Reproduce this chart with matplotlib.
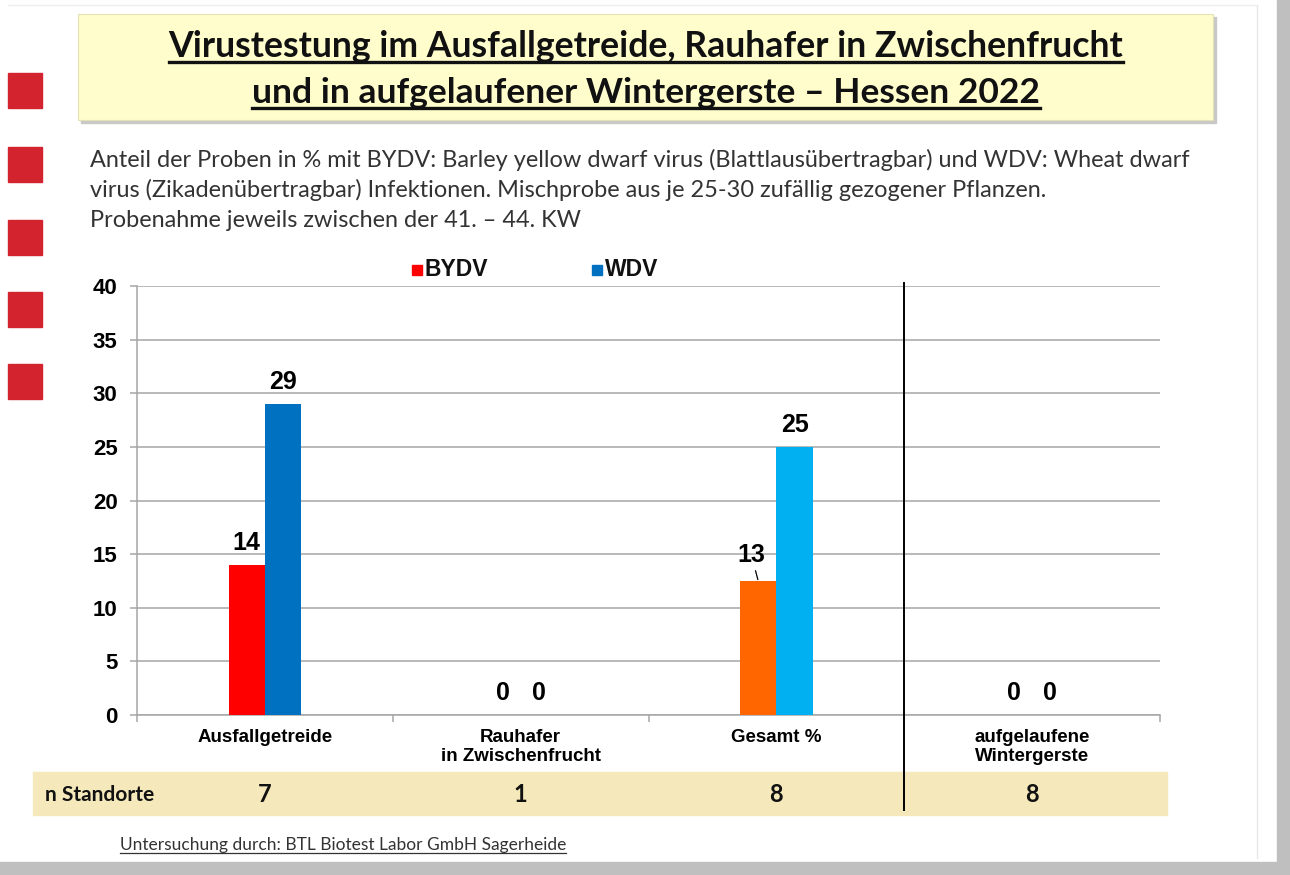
import matplotlib
matplotlib.use("Agg")
import matplotlib.pyplot as plt
from matplotlib.patches import Rectangle
from matplotlib.lines import Line2D
import matplotlib.transforms as mtrans

# ---------------- data ----------------
categories = ["Ausfallgetreide", "Rauhafer\nin Zwischenfrucht", "Gesamt %", "aufgelaufene\nWintergerste"]
bydv = [14, 0, 12.5, 0]
wdv = [29, 0, 25, 0]
n_standorte = [7, 1, 8, 8]
yticks = [0, 5, 10, 15, 20, 25, 30, 35, 40]
series_names = ["BYDV", "WDV"]
bydv_colors = ["#FF0000", "#FF0000", "#FF6600", "#FF0000"]
wdv_colors = ["#0070C0", "#0070C0", "#00B0F0", "#0070C0"]

title_lines = ["Virustestung im Ausfallgetreide, Rauhafer in Zwischenfrucht",
               "und in aufgelaufener Wintergerste \u2013 Hessen 2022"]
subtitle_lines = ["Anteil der Proben in % mit BYDV: Barley yellow dwarf virus (Blattlaus\u00fcbertragbar) und WDV: Wheat dwarf",
                  "virus (Zikaden\u00fcbertragbar) Infektionen. Mischprobe aus je 25-30 zuf\u00e4llig gezogener Pflanzen.",
                  "Probenahme jeweils zwischen der 41. \u2013 44. KW"]
footer = "Untersuchung durch: BTL Biotest Labor GmbH Sagerheide"
table_label = "n Standorte"

# ---------------- layout helpers ----------------
W, H = 1290, 875
fig = plt.figure(figsize=(W / 100, H / 100), dpi=100)
fig.patch.set_facecolor("white")

def fx(px):
    return px / W

def fy(py):
    return 1 - py / H

def frect(x0, y0, x1, y1, **kw):
    r = Rectangle((fx(x0), fy(y1)), (x1 - x0) / W, (y1 - y0) / H,
                  transform=fig.transFigure, **kw)
    fig.patches.append(r)
    return r

renderer = fig.canvas.get_renderer()

def fit_width(t, target_px):
    bb = t.get_window_extent(renderer)
    t.set_fontsize(t.get_fontsize() * target_px / bb.width)

CAL = ["Lato", "DejaVu Sans"]
ARI = ["Liberation Sans", "DejaVu Sans"]

# slide frame
frect(1277, 0, 1290, 875, color="#BFBFBF", zorder=0)
frect(0, 862, 1290, 875, color="#BFBFBF", zorder=0)
fig.add_artist(Line2D([fx(1257), fx(1257)], [fy(5), fy(858)], color="#E6E6E6", lw=1,
                      transform=fig.transFigure))
fig.add_artist(Line2D([fx(8), fx(1257)], [fy(5), fy(5)], color="#EEEEEE", lw=1,
                      transform=fig.transFigure))

# red squares
for top in [73, 147, 220, 292, 364]:
    frect(8, top, 42, top + 35, color="#D3232F", zorder=1)

# title box
frect(81, 17, 1216, 123, color="#C8C8C8", zorder=1)
frect(78, 14, 1213, 120, facecolor="#FFFDCB", edgecolor="#E3E1B5", lw=0.8, zorder=2)
for line, base, tw in zip(title_lines, [57, 103], [957, 787]):
    t = fig.text(fx(646), fy(base), line, ha="center", va="baseline",
                 family=CAL, fontweight="bold", fontsize=24, color="#111111", zorder=3)
    fit_width(t, tw)
    bb = t.get_window_extent(renderer)
    fig.add_artist(Line2D([bb.x0 / W, bb.x1 / W], [fy(base + 5), fy(base + 5)],
                          color="#111111", lw=2.4, transform=fig.transFigure, zorder=3))

# subtitle
for i, line in enumerate(subtitle_lines):
    t = fig.text(fx(90), fy(167 + 30 * i), line, ha="left", va="baseline",
                 family=CAL, fontsize=14.5, color="#333333")
    if i == 0:
        fit_width(t, 1100)
        sub_fs = t.get_fontsize()
    else:
        t.set_fontsize(sub_fs)

# ---------------- axes ----------------
ax_l, ax_r, ax_b, ax_t = 137, 1160, 715, 286
ax = fig.add_axes([fx(ax_l), fy(ax_b), (ax_r - ax_l) / W, (ax_b - ax_t) / H])
ax.set_facecolor("none")
x = list(range(len(categories)))
bw = 0.142
ax.bar([i - bw / 2 for i in x], bydv, width=bw, color=bydv_colors, zorder=3)
ax.bar([i + bw / 2 for i in x], wdv, width=bw, color=wdv_colors, zorder=3)
ax.set_xlim(-0.5, len(categories) - 0.5)
ax.set_ylim(0, 40)
ax.set_yticks(yticks)
ax.set_yticklabels([str(v) for v in yticks], family=ARI, fontweight="bold", fontsize=16)
ax.grid(axis="y", color="#A6A6A6", lw=1.1, zorder=0)
ax.tick_params(axis="y", length=5, color="#A6A6A6", pad=9, width=1.1)
ax.set_xticks(x)
ax.set_xticklabels(categories, family=ARI, fontweight="bold", fontsize=13.5, linespacing=1.15)
ax.tick_params(axis="x", length=0, pad=10)
ax.set_xticks([i - 0.5 for i in range(len(categories) + 1)], minor=True)
ax.tick_params(axis="x", which="minor", length=5, color="#A6A6A6", width=1.1)
for s in ["top", "right"]:
    ax.spines[s].set_visible(False)
for s in ["left", "bottom"]:
    ax.spines[s].set_color("#A6A6A6")
    ax.spines[s].set_linewidth(1.1)

# data labels
for i in x:
    for val, off in [(bydv[i], -bw / 2), (wdv[i], bw / 2)]:
        lab = str(int(val + 0.5))
        if val != int(val):
            ax.annotate(lab, xy=(i + off, val), xytext=(-5, 19), textcoords="offset points",
                        ha="center", va="center", family=ARI, fontweight="bold", fontsize=18,
                        arrowprops=dict(arrowstyle="-", lw=0.9, color="black", shrinkA=1, shrinkB=1))
        else:
            ax.annotate(lab, xy=(i + off, val), xytext=(0, 15.5), textcoords="offset points",
                        ha="center", va="center", family=ARI, fontweight="bold", fontsize=18)

# legend
legend_items = [(412, series_names[0], bydv_colors[0]), (592, series_names[1], wdv_colors[0])]
for lx, name, col in legend_items:
    frect(lx, 265, lx + 10, 275, color=col)
    fig.text(fx(lx + 13), fy(270), name, ha="left", va="center", family=ARI,
             fontweight="bold", fontsize=16.5, color="#111111")

# table row
frect(33, 772, 1167, 815, color="#F5E9BB", zorder=0)
fig.text(fx(45), fy(795), table_label, ha="left", va="center", family=CAL,
         fontweight="bold", fontsize=15, color="#111111")
blend = mtrans.blended_transform_factory(ax.transData, fig.transFigure)
for i, n in enumerate(n_standorte):
    fig.text(i, fy(795), str(n), transform=blend, ha="center", va="center",
             family=CAL, fontweight="bold", fontsize=17, color="#111111")

# divider
fig.add_artist(Line2D([2.5, 2.5], [fy(283), fy(810)], color="black", lw=1.4,
                      transform=blend))

# footer
t = fig.text(fx(120), fy(850), footer, ha="left", va="baseline", family=CAL,
             fontsize=11.5, color="#333333")
fit_width(t, 447)
bb = t.get_window_extent(renderer)
fig.add_artist(Line2D([bb.x0 / W, bb.x1 / W], [fy(853), fy(853)], color="#333333",
                      lw=0.9, transform=fig.transFigure))

fig.savefig("out.png", dpi=100)
